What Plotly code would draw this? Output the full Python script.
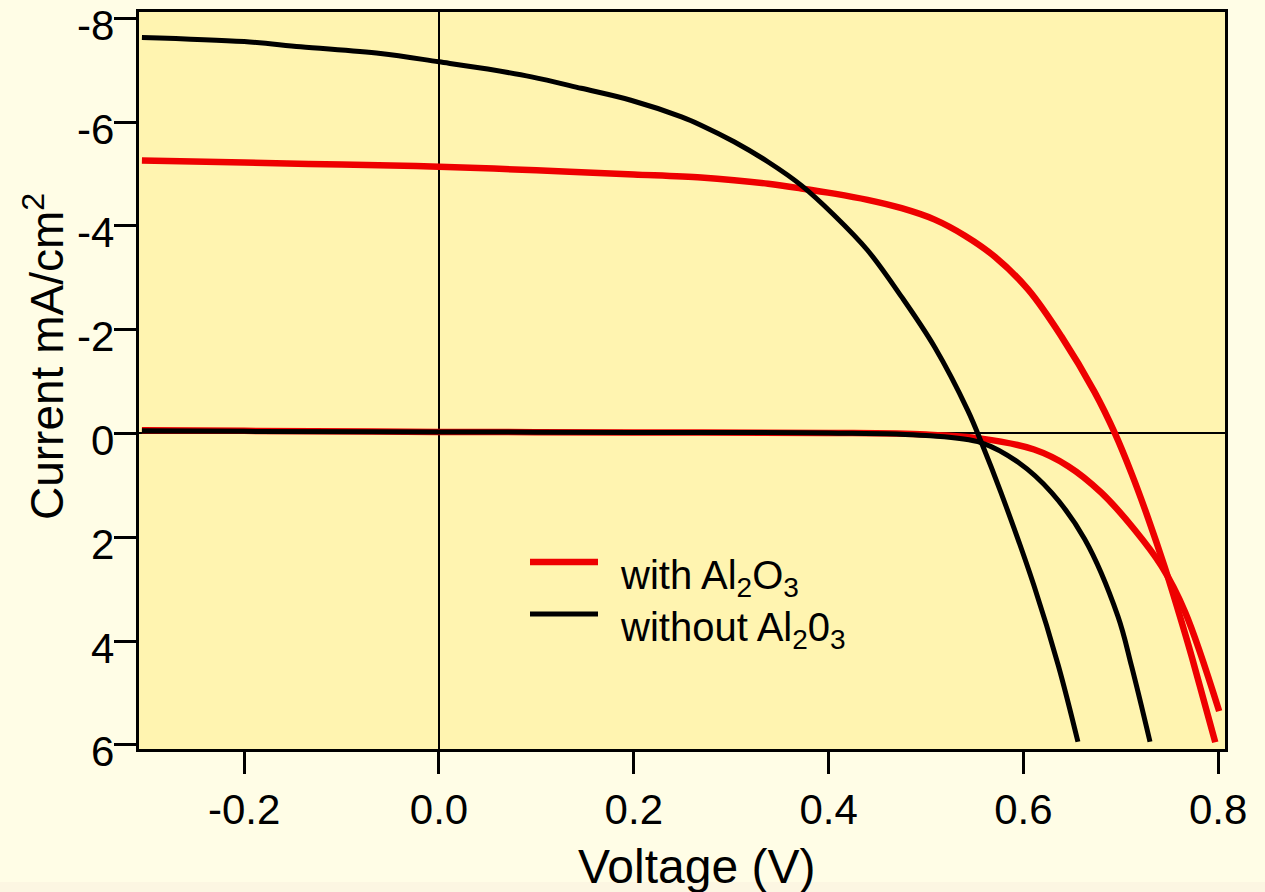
import plotly.graph_objects as go

# --- data ---
v_red_light = [-0.305, -0.2, -0.1, 0.0, 0.1, 0.2, 0.269, 0.303, 0.338, 0.372, 0.406, 0.440, 0.475,
               0.509, 0.540, 0.571, 0.605, 0.639, 0.673, 0.694, 0.711, 0.728, 0.745, 0.760, 0.773,
               0.785, 0.797]
i_red_light = [-5.26, -5.22, -5.18, -5.14, -5.07, -4.99, -4.93, -4.88, -4.81, -4.72, -4.62, -4.50, -4.34,
               -4.12, -3.81, -3.40, -2.77, -1.87, -0.80, 0.0, 0.77, 1.63, 2.57, 3.48, 4.31,
               5.13, 5.95]

v_red_dark = [-0.305, -0.2, 0.0, 0.2, 0.4, 0.5, 0.557, 0.611, 0.646, 0.68, 0.714, 0.742, 0.766, 0.801]
i_red_dark = [-0.06, -0.05, -0.03, -0.02, -0.01, 0.02, 0.10, 0.31, 0.63, 1.14, 1.85, 2.56, 3.44, 5.35]

v_blk_light = [-0.305, -0.2, -0.142, -0.06, 0.0, 0.05, 0.095, 0.146, 0.197, 0.249, 0.269, 0.303, 0.338,
               0.372, 0.406, 0.440, 0.475, 0.509, 0.543, 0.557, 0.577, 0.611, 0.636, 0.656]
i_blk_light = [-7.63, -7.55, -7.45, -7.32, -7.16, -7.02, -6.87, -6.65, -6.42, -6.10, -5.94, -5.62, -5.23,
               -4.78, -4.20, -3.53, -2.63, -1.66, -0.44, 0.18, 1.14, 2.94, 4.48, 5.94]

v_blk_dark = [-0.305, -0.2, 0.0, 0.2, 0.4, 0.5, 0.557, 0.595, 0.629, 0.663, 0.697, 0.711, 0.730]
i_blk_dark = [-0.05, -0.04, -0.03, -0.02, -0.01, 0.04, 0.18, 0.56, 1.14, 2.04, 3.52, 4.48, 5.94]

x_ticks = [-0.2, 0.0, 0.2, 0.4, 0.6, 0.8]
y_ticks = [-8, -6, -4, -2, 0, 2, 4, 6]

RED = "#EE0000"
BLACK = "#000000"
FONT = "Liberation Sans, Arial, sans-serif"
RED_W, BLK_W = 6.5, 5

fig = go.Figure()
for vx, iy, col, w in [
    (v_red_dark, i_red_dark, RED, RED_W),
    (v_blk_dark, i_blk_dark, BLACK, BLK_W),
    (v_red_light, i_red_light, RED, RED_W),
    (v_blk_light, i_blk_light, BLACK, BLK_W),
]:
    fig.add_trace(go.Scatter(x=vx, y=iy, mode="lines",
                             line=dict(color=col, width=w, shape="spline", smoothing=1.0),
                             showlegend=False, hoverinfo="skip"))

# pixel frame of the plot area
L, R, T, B = 139, 1225, 12, 749
def px(x):
    return (x - L) / (R - L)
def py(y):
    return (B - y) / (B - T)

# manual legend
for ly, col, w, txt, ty in [
    (562, RED, RED_W, "with Al<sub>2</sub>O<sub>3</sub>", 578),
    (614, BLACK, BLK_W, "without Al<sub>2</sub>0<sub>3</sub>", 630),
]:
    fig.add_shape(type="line", xref="paper", yref="paper",
                  x0=px(530), x1=px(598), y0=py(ly), y1=py(ly),
                  line=dict(color=col, width=w))
    fig.add_annotation(xref="paper", yref="paper", x=px(618), y=py(ty),
                       xanchor="left", yanchor="middle", showarrow=False,
                       text=txt, font=dict(size=40, color="black", family=FONT))

# y tick labels (sit slightly below their ticks, as in the reference)
for t in y_ticks:
    fig.add_annotation(xref="paper", yref="y", x=px(116), y=t, yshift=-7,
                       xanchor="right", yanchor="middle", showarrow=False,
                       text=str(t), font=dict(size=42, color="black", family=FONT))

# axis titles
fig.add_annotation(xref="paper", yref="paper", x=px(696), y=py(866),
                   xanchor="center", yanchor="middle", showarrow=False,
                   text="Voltage (V)", font=dict(size=48, color="black", family=FONT))
fig.add_annotation(xref="paper", yref="paper", x=px(44), y=py(357),
                   xanchor="center", yanchor="middle", showarrow=False, textangle=-90,
                   text="Current mA/cm<sup>2</sup>", font=dict(size=46, color="black", family=FONT))

# faint band at the bottom edge of the picture
fig.add_shape(type="rect", xref="paper", yref="paper", layer="below",
              x0=px(0), x1=px(1265), y0=py(892), y1=py(882),
              line=dict(width=0), fillcolor="#FCF6E2")

fig.update_layout(
    width=1265, height=892,
    margin=dict(l=L, r=1265 - R, t=T, b=892 - B, autoexpand=False),
    paper_bgcolor="#FFFDE6",
    plot_bgcolor="#FFF4B0",
    font=dict(family=FONT, color="black"),
    showlegend=False,
)
fig.update_xaxes(
    range=[-0.308, 0.807], tickvals=x_ticks, ticktext=[f"{t:.1f}" for t in x_ticks],
    ticks="outside", ticklen=22, tickwidth=3, tickcolor="black",
    showline=True, linewidth=3, linecolor="black", mirror=True,
    showgrid=False, zeroline=True, zerolinecolor="black", zerolinewidth=2,
    tickfont=dict(size=42, family=FONT), ticklabeloverflow="allow", automargin=False,
)
fig.update_yaxes(
    range=[6.08, -8.12], tickvals=y_ticks, showticklabels=False,
    ticks="outside", ticklen=22, tickwidth=3, tickcolor="black",
    showline=True, linewidth=3, linecolor="black", mirror=True,
    showgrid=False, zeroline=True, zerolinecolor="black", zerolinewidth=2,
    automargin=False,
)

fig.write_html("out.html", config={"displayModeBar": False},
               post_script="document.body.style.margin='0px';document.body.style.overflow='hidden';")
